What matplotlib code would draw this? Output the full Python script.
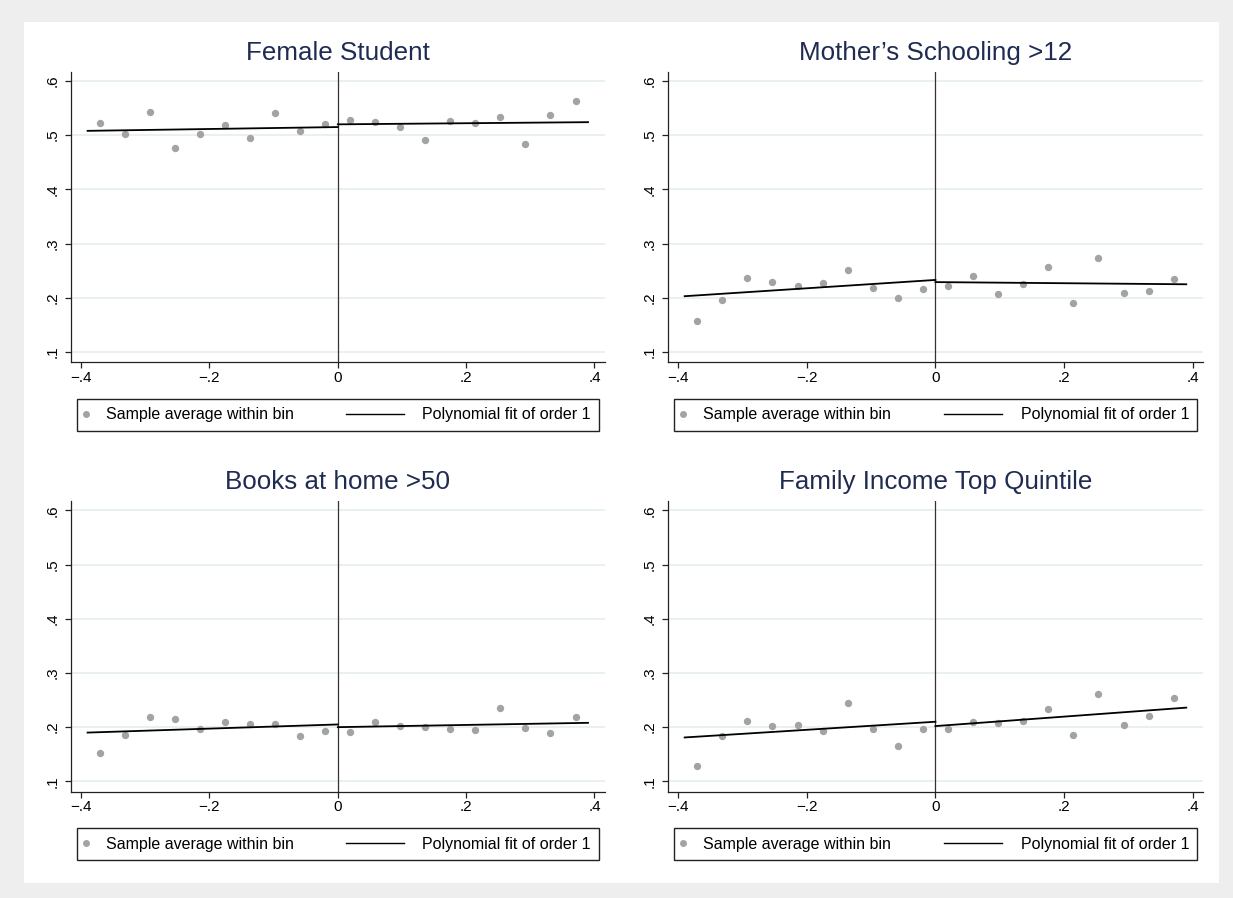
#!/usr/bin/env python3
# -*- coding: utf-8 -*-

'''Binned averages of student background around the cutoff.
Four panels, each with a linear fit drawn separately on both sides of zero.
'''

# Non-standard Imports
import matplotlib
matplotlib.use('Agg')
import matplotlib.pyplot as plt
from matplotlib.lines import Line2D
from matplotlib.patches import Rectangle
from matplotlib.legend_handler import HandlerLine2D

plt.rcParams['font.family'] = ['Liberation Sans', 'DejaVu Sans']

# Bin midpoints of the running variable (10 bins each side)
bin_mid = [-0.3705, -0.3315, -0.2925, -0.2535, -0.2145, -0.1755, -0.1365, -0.0975, -0.0585, -0.0195,
	0.0195, 0.0585, 0.0975, 0.1365, 0.1755, 0.2145, 0.2535, 0.2925, 0.3315, 0.3705]

# Ends of the fitted lines on each side
fit_x_left = [-0.39, 0.0]
fit_x_right = [0.0, 0.39]

titles = ['Female Student', 'Mother\u2019s Schooling >12', 'Books at home >50', 'Family Income Top Quintile']

# Sample average within bin
female = [0.522, 0.502, 0.542, 0.477, 0.503, 0.519, 0.495, 0.540, 0.508, 0.521,
	0.528, 0.525, 0.515, 0.491, 0.527, 0.523, 0.534, 0.483, 0.538, 0.563]
mother = [0.158, 0.196, 0.236, 0.229, 0.222, 0.227, 0.252, 0.219, 0.199, 0.216,
	0.222, 0.240, 0.207, 0.225, 0.256, 0.191, 0.273, 0.208, 0.213, 0.234]
books = [0.152, 0.185, 0.218, 0.215, 0.197, 0.209, 0.206, 0.206, 0.183, 0.192,
	0.191, 0.209, 0.203, 0.201, 0.197, 0.195, 0.236, 0.198, 0.190, 0.219]
income = [0.128, 0.184, 0.211, 0.202, 0.204, 0.192, 0.244, 0.196, 0.165, 0.197,
	0.196, 0.209, 0.207, 0.212, 0.233, 0.186, 0.262, 0.204, 0.221, 0.254]

# Polynomial fit of order 1, value at the ends of each side
female_fit_left = [0.508, 0.515]
female_fit_right = [0.520, 0.524]
mother_fit_left = [0.203, 0.233]
mother_fit_right = [0.229, 0.225]
books_fit_left = [0.190, 0.205]
books_fit_right = [0.200, 0.208]
income_fit_left = [0.181, 0.210]
income_fit_right = [0.202, 0.236]

x_ticks = [-0.4, -0.2, 0.0, 0.2, 0.4]
x_labels = ['\u2212.4', '\u2212.2', '0', '.2', '.4']
y_ticks = [0.1, 0.2, 0.3, 0.4, 0.5, 0.6]
y_labels = ['.1', '.2', '.3', '.4', '.5', '.6']

panels = [
	(titles[0], female, female_fit_left, female_fit_right),
	(titles[1], mother, mother_fit_left, mother_fit_right),
	(titles[2], books, books_fit_left, books_fit_right),
	(titles[3], income, income_fit_left, income_fit_right),
]

# Axes boxes in figure fractions: left, bottom, width, height
boxes = [
	[0.0572, 0.5965, 0.4335, 0.3236],
	[0.5414, 0.5965, 0.4345, 0.3236],
	[0.0572, 0.1184, 0.4335, 0.3236],
	[0.5414, 0.1184, 0.4345, 0.3236],
]

dot_color = '#a3a3a3'
dark = '#222222'

fig = plt.figure(figsize=(12.33, 8.98), dpi=100, facecolor='#eeeeee')
# white graph region inside the grey border, kept behind the axes
fig.patches.append(Rectangle((24 / 1233, 1 - 883 / 898), (1219 - 24) / 1233, (883 - 22) / 898,
	transform=fig.transFigure, facecolor='white', edgecolor='none', zorder=-1))


def draw_panel(ax, title, means, fit_left, fit_right):
	'''One panel: bin means, fit lines, cutoff line and legend.
	'''
	ax.plot(bin_mid, means, ls='none', marker='o', ms=5.3, color=dot_color, mec='none', zorder=3)
	ax.plot(fit_x_left, fit_left, color='black', lw=1.3, zorder=4)
	ax.plot(fit_x_right, fit_right, color='black', lw=1.3, zorder=4)
	ax.axvline(0, color='#333333', lw=0.9, zorder=2)

	ax.set_xlim(-0.4166, 0.4165)
	ax.set_ylim(0.081, 0.617)
	ax.set_xticks(x_ticks, x_labels)
	ax.set_yticks(y_ticks, y_labels)
	for lab in ax.get_yticklabels():
		lab.set_rotation(90)
		lab.set_va('center')
	ax.tick_params(direction='out', length=4.4, width=0.9, color=dark, labelsize=11, labelcolor='black')
	ax.tick_params(axis='x', pad=1.5)
	ax.tick_params(axis='y', pad=3.4)

	ax.yaxis.grid(True, color='#e3ecee', lw=1.1)
	ax.set_axisbelow(True)
	for side in ['top', 'right']:
		ax.spines[side].set_visible(False)
	for side in ['left', 'bottom']:
		ax.spines[side].set_color(dark)
		ax.spines[side].set_linewidth(0.9)

	ax.set_title(title, fontsize=18.7, color='#1f2b50', pad=8.5)

	# Legend under the axis
	dot = Line2D([], [], ls='none', marker='o', ms=5, color=dot_color, mec='none')
	fit = Line2D([], [], color='black', lw=1.0)
	leg = ax.legend([dot, fit], ['Sample average within bin', 'Polynomial fit of order 1'],
		ncol=2, mode='expand', loc='upper left', bbox_to_anchor=(0.0112, -0.1263, 0.978, 0),
		borderaxespad=0, borderpad=0.52, handlelength=0.15, handletextpad=1.15,
		fontsize=11.5, fancybox=False, framealpha=1, edgecolor=dark,
		handler_map={fit: HandlerLine2D(xpad=-3.5)})
	leg.get_frame().set_linewidth(1.0)


for box, (title, means, fit_left, fit_right) in zip(boxes, panels):
	ax = fig.add_axes(box)
	ax.set_facecolor('white')
	draw_panel(ax, title, means, fit_left, fit_right)

fig.savefig('out.png', dpi=100, facecolor=fig.get_facecolor())
